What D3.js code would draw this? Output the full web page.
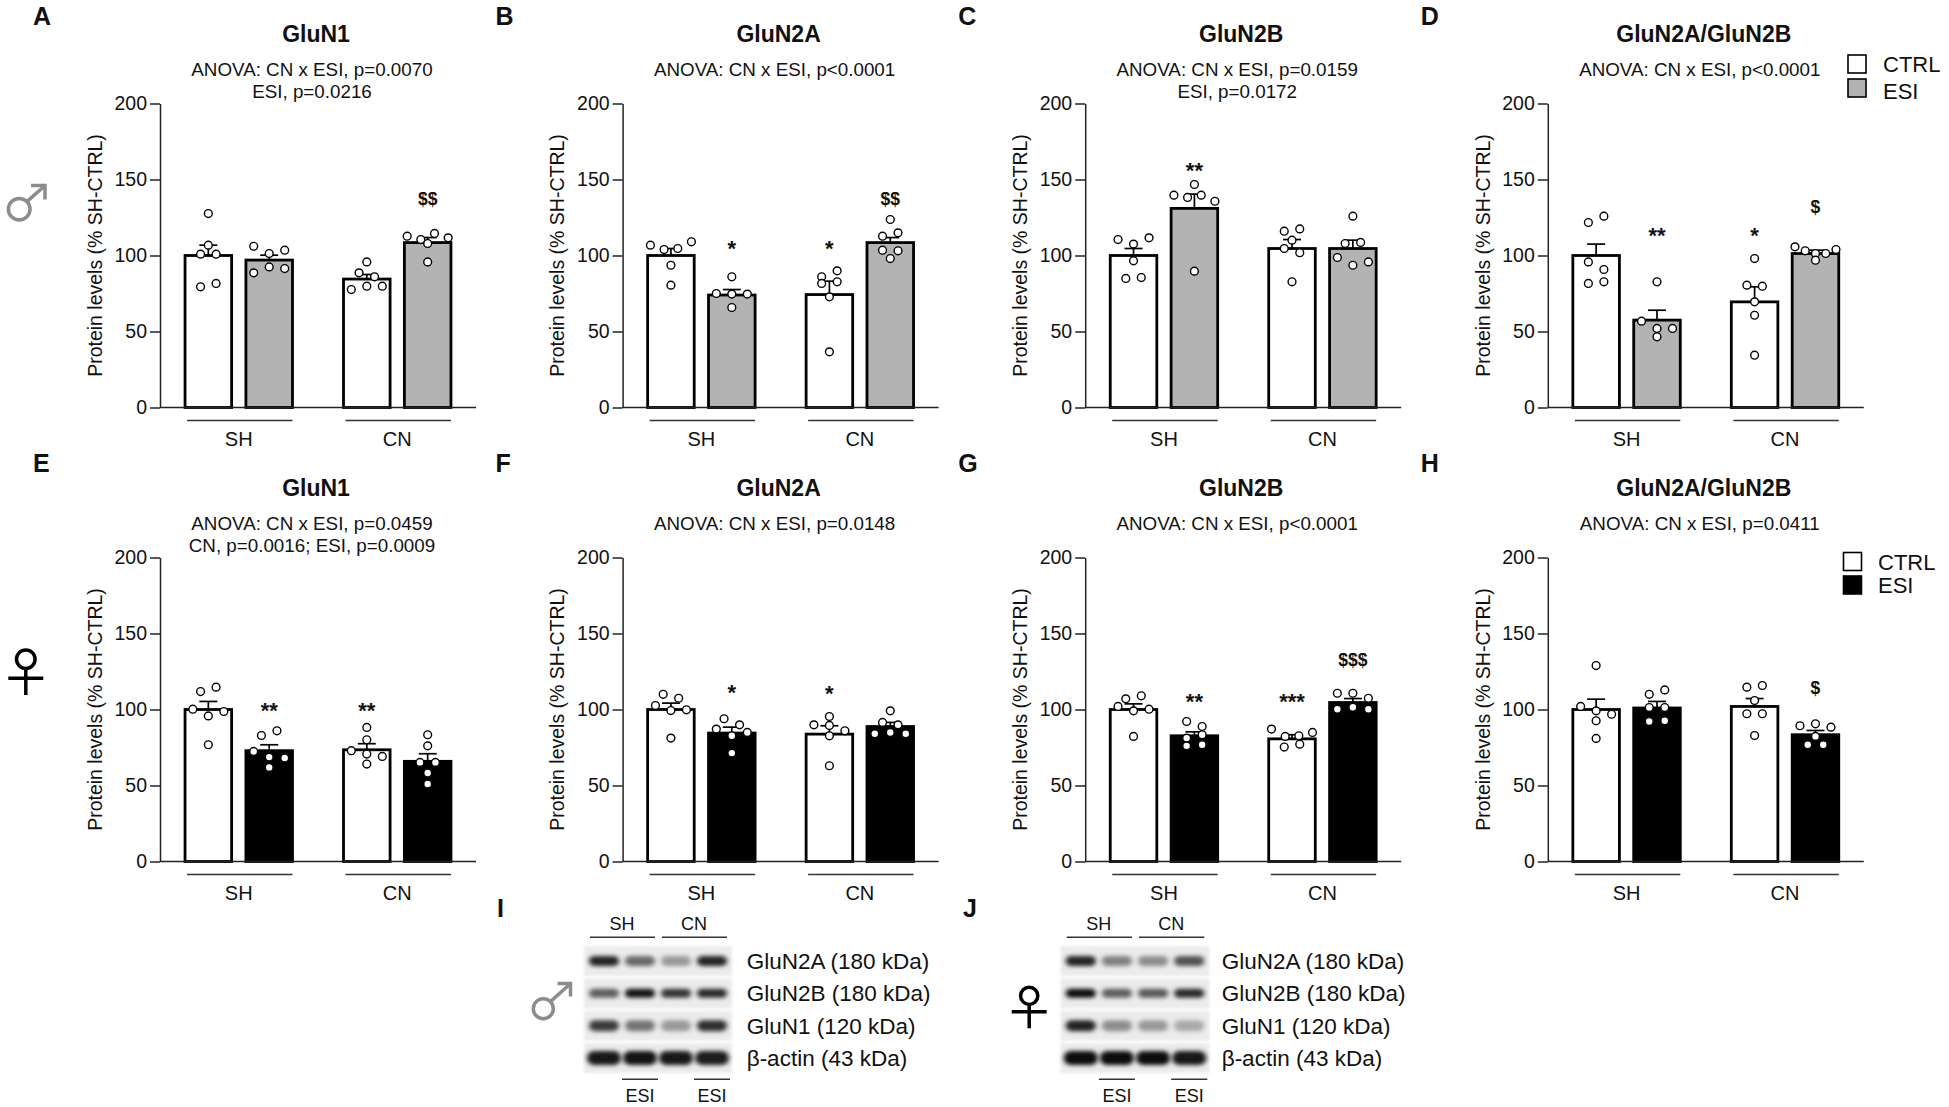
<!DOCTYPE html>
<html>
<head>
<meta charset="utf-8">
<script src="https://cdn.jsdelivr.net/npm/d3@7"></script>
<style>
  body { margin: 0; background: #fff; }
  text { font-family: "Liberation Sans", Arial, Helvetica, sans-serif; fill: #111; }
</style>
</head>
<body>
<svg id="fig"></svg>
<script>
// NMDA subunit levels, males (top row) and females (bottom row)

// ---------- data ----------
const groups = ["SH", "CN"];
const conditions = ["CTRL", "ESI"];
const yTicks = [0, 50, 100, 150, 200];
const panelLetters = ["A", "B", "C", "D", "E", "F", "G", "H"];
const panelTitles = ["GluN1", "GluN2A", "GluN2B", "GluN2A/GluN2B", "GluN1", "GluN2A", "GluN2B", "GluN2A/GluN2B"];
const anovaLines = [
	["ANOVA: CN x ESI, p=0.0070", "ESI, p=0.0216"],
	["ANOVA: CN x ESI, p<0.0001"],
	["ANOVA: CN x ESI, p=0.0159", "ESI, p=0.0172"],
	["ANOVA: CN x ESI, p<0.0001"],
	["ANOVA: CN x ESI, p=0.0459", "CN, p=0.0016; ESI, p=0.0009"],
	["ANOVA: CN x ESI, p=0.0148"],
	["ANOVA: CN x ESI, p<0.0001"],
	["ANOVA: CN x ESI, p=0.0411"]
];

// bar order in every panel: SH-CTRL, SH-ESI, CN-CTRL, CN-ESI
const barMeans = [
	[100, 97, 84.5, 108.5],
	[100, 74, 74.3, 108.5],
	[100, 131, 104.6, 104.6],
	[100, 57.5, 69.5, 101.3],
	[100, 72.9, 73.5, 65.9],
	[100, 84.5, 83.8, 88.8],
	[100, 82.7, 80.7, 104.6],
	[100, 101, 102, 83.4]
];
const barSEM = [
	[6.8, 3.2, 3.0, 3.3],
	[4.6, 3.6, 8.8, 3.3],
	[4.6, 9.4, 5.9, 5.5],
	[7.5, 6.5, 9.9, 2.2],
	[5.3, 3.9, 4.0, 5.0],
	[4.2, 3.9, 5.5, 2.7],
	[3.7, 2.6, 2.7, 2.6],
	[6.8, 4.3, 5.2, 2.8]
];
const points = [
	[[127.6, 106.8, 100.9, 100.9, 79.4, 81.6], [106.1, 101.3, 103.5, 88.6, 92.5, 91.4], [95.8, 88.6, 86.0, 77.6, 79.8, 79.8], [112.7, 110.5, 114.5, 111.6, 107.9, 95.8]],
	[[106.8, 103.9, 104.6, 109, 93.6, 80.5], [86, 75, 74.6, 74.6, 65.8], [86, 89.9, 81.6, 82.7, 72.8, 36.6], [123.7, 112.7, 114.9, 103.5, 103.1, 98.0]],
	[[110.5, 107.5, 111.6, 96.5, 84.9, 85.5], [146.7, 139.7, 138.2, 139.7, 135.7, 89.7], [116, 117.5, 110.1, 104.6, 101.8, 82.7], [125.9, 107.9, 108.6, 98.7, 93.6, 95.8]],
	[[121.7, 125.9, 95.8, 90.8, 81.6, 82.7], [82.7, 56.8, 52, 52, 46.5], [98, 80.5, 79.8, 69.5, 60.7, 34.4], [105.7, 103.1, 101.3, 101.3, 103.9, 96.9]],
	[[111.8, 114.7, 100.2, 95.8, 98.7, 76.8], [82.9, 86, 72.4, 68.7, 68.1, 61.9], [88.2, 80.1, 72.9, 70.7, 69.1, 64.1], [83.4, 76.1, 65.2, 65.2, 58.2, 51]],
	[[110, 107.4, 102.6, 99.3, 99.8, 81.2], [93.9, 89.9, 87.1, 82.7, 84.9, 71.3], [95.4, 89.9, 89.5, 86, 82.7, 63], [99.1, 91.5, 84, 84.9, 89.9, 84]],
	[[107, 109, 102, 99.1, 100.2, 82.3], [92.1, 88.8, 81.2, 83.4, 76.1, 76.8], [87.1, 82.3, 82.7, 84.9, 75.3, 77.2], [110.7, 110.7, 107.4, 100.2, 101.5, 100.2]],
	[[128.9, 102, 99.1, 96.9, 92.6, 81], [110, 112.9, 101.3, 101.3, 92.1, 92.6], [114.7, 115.8, 105.9, 97.2, 97.2, 82.9], [89.3, 90.6, 88.4, 82.3, 76.8, 76.8]]
];
// significance marks: bar index, symbol, level (axis units)
const sigMarks = [
	[{ bar: 3, text: "$$", level: 137.5 }],
	[{ bar: 1, text: "*", level: 108 }, { bar: 2, text: "*", level: 108 }, { bar: 3, text: "$$", level: 137 }],
	[{ bar: 1, text: "**", level: 159.4 }],
	[{ bar: 1, text: "**", level: 116.7 }, { bar: 2, text: "*", level: 116.7 }, { bar: 3, text: "$", level: 132 }],
	[{ bar: 1, text: "**", level: 103 }, { bar: 2, text: "**", level: 103 }],
	[{ bar: 1, text: "*", level: 115 }, { bar: 2, text: "*", level: 114 }],
	[{ bar: 1, text: "**", level: 108.5 }, { bar: 2, text: "***", level: 108.5 }, { bar: 3, text: "$$$", level: 132.6 }],
	[{ bar: 3, text: "$", level: 114 }]
];

// western blots: band intensity (0-1) per protein row x lane
const blotLanes = ["SH-CTRL", "SH-ESI", "CN-CTRL", "CN-ESI"];
const blotProteins = ["GluN2A (180 kDa)", "GluN2B (180 kDa)", "GluN1 (120 kDa)", "\u03b2-actin (43 kDa)"];
const maleBands = [
	[0.85, 0.55, 0.35, 0.85],
	[0.6, 0.92, 0.78, 0.82],
	[0.75, 0.5, 0.35, 0.8],
	[0.9, 0.92, 0.9, 0.88]
];
const femaleBands = [
	[0.85, 0.45, 0.4, 0.65],
	[0.95, 0.6, 0.62, 0.82],
	[0.85, 0.4, 0.35, 0.28],
	[0.95, 0.95, 0.95, 0.9]
];

// ---------- layout ----------
const W = 1949, H = 1107;
const plotW = 316, plotH = 304;
const colX = i => 160 + i * 462.6;
const rowTop = [103.5, 557.5];
const letterY = [25, 472];
const esiFill = ["#b3b3b3", "#000"];
const fontStack = '"Liberation Sans", Arial, Helvetica, sans-serif';

let svg = d3.select("#fig").attr("width", W).attr("height", H);

let defs = svg.append("defs");
defs.append("filter").attr("id", "bandBlur").attr("x", "-30%").attr("y", "-100%").attr("width", "160%").attr("height", "300%")
	.append("feGaussianBlur").attr("stdDeviation", "2.6 2.0");
defs.append("filter").attr("id", "stripBlur")
	.append("feGaussianBlur").attr("stdDeviation", 1.5);

// Spread the dots of one bar in rows, like Prism's scatter
function swarm(values, y, cx) {
	let sorted = values.map((v, i) => ({ v, i })).sort((a, b) => b.v - a.v);
	let rows = [];
	sorted.forEach(p => {
		let last = rows[rows.length - 1];
		if (last && y(p.v) - y(last[0].v) < 8) last.push(p);
		else rows.push([p]);
	});
	let out = [];
	rows.forEach(r => {
		let gap = r.length > 1 ? Math.min(15.5, 41 / (r.length - 1)) : 0;
		r.sort((a, b) => a.i - b.i)
			.forEach((p, k) => out.push({ v: p.v, x: cx + (k - (r.length - 1) / 2) * gap }));
	});
	return out;
}

// Draw one bar panel
function drawPanel(p) {
	let row = Math.floor(p / 4), col = p % 4;
	let x0 = colX(col), top = rowTop[row];
	let g = svg.append("g").attr("transform", `translate(${x0},0)`);

	let y = d3.scaleLinear().domain([0, 200]).range([top + plotH, top]);
	let xGroup = d3.scaleBand().domain(groups).range([0, plotW]).paddingInner(0.322).paddingOuter(0.158);
	let xCond = d3.scaleBand().domain(conditions).range([0, xGroup.bandwidth()]).paddingInner(0.235);

	let bars = [];
	groups.forEach((gr, gi) => conditions.forEach((c, ci) => {
		let k = gi * 2 + ci;
		bars.push({
			k, c,
			x: xGroup(gr) + xCond(c),
			mean: barMeans[p][k],
			sem: barSEM[p][k],
			pts: points[p][k]
		});
	}));
	let bw = xCond.bandwidth();

	// bars
	g.selectAll(".bar").data(bars).enter().append("rect")
		.attr("x", d => d.x)
		.attr("y", d => y(d.mean))
		.attr("width", bw)
		.attr("height", d => y(0) - y(d.mean))
		.attr("fill", d => d.c === "CTRL" ? "#fff" : esiFill[row])
		.attr("stroke", "#000")
		.attr("stroke-width", 2.8);

	// error bars (upper half only)
	let err = g.selectAll(".err").data(bars).enter().append("g");
	err.append("line")
		.attr("x1", d => d.x + bw / 2).attr("x2", d => d.x + bw / 2)
		.attr("y1", d => y(d.mean)).attr("y2", d => y(d.mean + d.sem))
		.attr("stroke", "#000").attr("stroke-width", 1.7);
	err.append("line")
		.attr("x1", d => d.x + bw / 2 - 9).attr("x2", d => d.x + bw / 2 + 9)
		.attr("y1", d => y(d.mean + d.sem)).attr("y2", d => y(d.mean + d.sem))
		.attr("stroke", "#000").attr("stroke-width", 1.7);

	// individual animals
	bars.forEach(b => {
		g.selectAll(null).data(swarm(b.pts, y, b.x + bw / 2)).enter().append("circle")
			.attr("cx", d => d.x)
			.attr("cy", d => y(d.v))
			.attr("r", 3.9)
			.attr("fill", "#fff")
			.attr("stroke", "#000")
			.attr("stroke-width", 1.4);
	});

	// significance marks
	sigMarks[p].forEach(m => {
		let b = bars[m.bar];
		let star = m.text[0] === "*";
		let fs = star ? 22 : 17.5;
		g.append("text")
			.attr("x", b.x + bw / 2)
			.attr("y", y(m.level) + (star ? 0.585 : 0.35) * fs)
			.attr("text-anchor", "middle")
			.style("font-size", fs + "px")
			.style("font-weight", "bold")
			.text(m.text);
	});

	// y axis
	let yAxis = g.append("g").call(d3.axisLeft(y).tickValues(yTicks).tickSize(10).tickPadding(3).tickSizeOuter(0));
	yAxis.attr("font-family", fontStack).attr("font-size", null);
	yAxis.selectAll("path, line").attr("stroke", "#222").attr("stroke-width", 1.5);
	yAxis.selectAll("text").style("font-size", "19.5px").attr("fill", "#111");

	// x baseline
	g.append("line")
		.attr("x1", 0).attr("x2", plotW)
		.attr("y1", y(0)).attr("y2", y(0))
		.attr("stroke", "#222").attr("stroke-width", 1.5);

	// group underlines and labels
	groups.forEach(gr => {
		g.append("line")
			.attr("x1", xGroup(gr) + 2).attr("x2", xGroup(gr) + xGroup.bandwidth())
			.attr("y1", y(0) + 13).attr("y2", y(0) + 13)
			.attr("stroke", "#333").attr("stroke-width", 1.5);
		g.append("text")
			.attr("x", xGroup(gr) + xGroup.bandwidth() / 2)
			.attr("y", y(0) + 38)
			.attr("text-anchor", "middle")
			.style("font-size", "20px")
			.text(gr);
	});

	// y label
	g.append("text")
		.attr("transform", `translate(-65,${top + plotH / 2}) rotate(-90)`)
		.attr("text-anchor", "middle")
		.attr("dy", "0.35em")
		.style("font-size", "19.5px")
		.text("Protein levels (% SH-CTRL)");

	// title and ANOVA lines
	g.append("text")
		.attr("x", 156).attr("y", top - 62)
		.attr("text-anchor", "middle")
		.style("font-size", "23px").style("font-weight", "bold")
		.text(panelTitles[p]);
	anovaLines[p].forEach((t, i) => {
		g.append("text")
			.attr("x", 152).attr("y", top - 27.5 + i * 21.5)
			.attr("text-anchor", "middle")
			.style("font-size", "18.8px")
			.text(t);
	});

	// panel letter
	svg.append("text")
		.attr("x", x0 - 127).attr("y", letterY[row])
		.style("font-size", "25px").style("font-weight", "bold")
		.text(panelLetters[p]);
}

for (let p = 0; p < 8; p++) drawPanel(p);

// legends
let legendSpec = [
	{ bx: 1848, tx: 1883, boxY: [55, 79], textY: [72, 99] },
	{ bx: 1843.5, tx: 1878, boxY: [552.5, 576], textY: [569.5, 593] }
];
legendSpec.forEach((L, row) => {
	conditions.forEach((c, i) => {
		svg.append("rect")
			.attr("x", L.bx).attr("y", L.boxY[i])
			.attr("width", 18).attr("height", 18)
			.attr("fill", c === "CTRL" ? "#fff" : esiFill[row])
			.attr("stroke", "#000").attr("stroke-width", 1.6);
		svg.append("text")
			.attr("x", L.tx).attr("y", L.textY[i])
			.style("font-size", "22px")
			.text(c);
	});
});

// sex symbols
let maleSymbol = (cx, cy, r, tipX, tipY, arm, color) => {
	let s = svg.append("g").attr("fill", "none").attr("stroke", color).attr("stroke-width", 3.5);
	s.append("circle").attr("cx", cx).attr("cy", cy).attr("r", r);
	s.append("line")
		.attr("x1", cx + r * Math.SQRT1_2).attr("y1", cy - r * Math.SQRT1_2)
		.attr("x2", tipX - 1).attr("y2", tipY + 1);
	s.append("path").attr("d", `M${tipX - arm},${tipY}H${tipX}V${tipY + arm}`);
};
let femaleSymbol = (cx, cy, r, stemEnd, barY, barHalf, color) => {
	let s = svg.append("g").attr("fill", "none").attr("stroke", color).attr("stroke-width", 3.5);
	s.append("circle").attr("cx", cx).attr("cy", cy).attr("r", r);
	s.append("line").attr("x1", cx).attr("x2", cx).attr("y1", cy + r).attr("y2", stemEnd);
	s.append("line").attr("x1", cx - barHalf).attr("x2", cx + barHalf).attr("y1", barY).attr("y2", barY);
};
maleSymbol(19.2, 209.2, 10.8, 45, 185.5, 14, "#8c8c8c");
femaleSymbol(25.8, 659.2, 9.3, 695, 678.3, 17.5, "#000");
maleSymbol(543.3, 1008.7, 10, 570.5, 983.5, 13, "#8c8c8c");
femaleSymbol(1029.2, 995.8, 8.6, 1028.3, 1011.7, 17.5, "#000");

// western blots
function drawBlot(bands, x0, x1, labelX, letter, letterX) {
	let lane = d3.scaleBand().domain(blotLanes).range([x0, x1]);
	let rowY = d3.scalePoint().domain(blotProteins).range([961, 1058]);
	let bandH = [10, 9, 11, 14];
	let g = svg.append("g");

	blotProteins.forEach((prot, r) => {
		g.append("rect")
			.attr("x", x0 - 2).attr("y", rowY(prot) - 15)
			.attr("width", x1 - x0 + 4).attr("height", 30)
			.attr("fill", "#ebebeb")
			.attr("filter", "url(#stripBlur)");
		g.selectAll(null).data(bands[r]).enter().append("rect")
			.attr("x", (d, i) => lane(blotLanes[i]) + (r === 3 ? 1 : 3))
			.attr("y", rowY(prot) - bandH[r] / 2)
			.attr("width", lane.bandwidth() - (r === 3 ? 2 : 6))
			.attr("height", bandH[r])
			.attr("rx", bandH[r] / 2)
			.attr("fill", "#000")
			.attr("fill-opacity", d => d)
			.attr("filter", "url(#bandBlur)");
		g.append("text")
			.attr("x", labelX).attr("y", rowY(prot) + 8)
			.style("font-size", "22.5px")
			.text(prot);
	});

	// lane headers
	groups.forEach((gr, gi) => {
		let a = lane(blotLanes[gi * 2]), b = lane(blotLanes[gi * 2 + 1]) + lane.bandwidth();
		g.append("line")
			.attr("x1", a + 4).attr("x2", b - 3)
			.attr("y1", 937.3).attr("y2", 937.3)
			.attr("stroke", "#333").attr("stroke-width", 1.4);
		g.append("text")
			.attr("x", (a + b) / 2).attr("y", 930)
			.attr("text-anchor", "middle")
			.style("font-size", "18px")
			.text(gr);
		let e = lane(blotLanes[gi * 2 + 1]);
		g.append("line")
			.attr("x1", e).attr("x2", e + lane.bandwidth())
			.attr("y1", 1079.3).attr("y2", 1079.3)
			.attr("stroke", "#333").attr("stroke-width", 1.4);
		g.append("text")
			.attr("x", e + lane.bandwidth() / 2).attr("y", 1101.5)
			.attr("text-anchor", "middle")
			.style("font-size", "18px")
			.text("ESI");
	});

	svg.append("text")
		.attr("x", letterX).attr("y", 916.5)
		.style("font-size", "25px").style("font-weight", "bold")
		.text(letter);
}

drawBlot(maleBands, 586, 730, 746.7, "I", 497);
drawBlot(femaleBands, 1062.7, 1207.3, 1221.7, "J", 963);
</script>
</body>
</html>
